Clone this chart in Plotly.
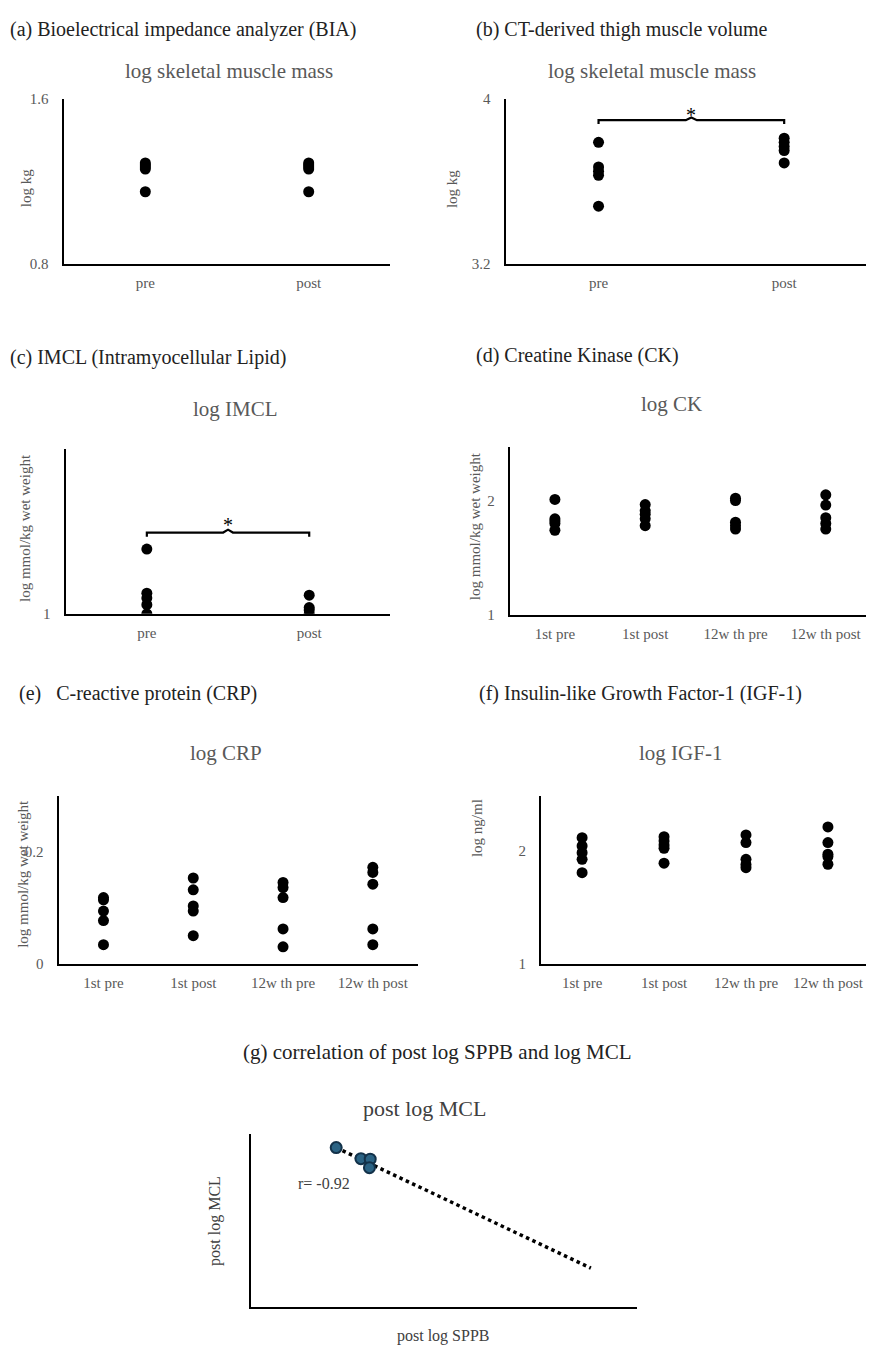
import plotly.graph_objects as go

W, H = 874, 1350
FONT = "Liberation Serif"
GRAY = "#595959"

# ---- data ----
prepost = ["pre", "post"]
visits = ["1st pre", "1st post", "12w th pre", "12w th post"]

bia_pre = [1.15, 1.26, 1.27, 1.28, 1.29]
bia_post = [1.15, 1.26, 1.27, 1.28, 1.29]

ct_pre = [3.79, 3.67, 3.65, 3.63, 3.48]
ct_post = [3.81, 3.79, 3.77, 3.75, 3.69]

imcl_pre = [1.157, 1.050, 1.038, 1.022, 1.0]
imcl_post = [1.045, 1.015, 1.009, 1.0]

ck_1st_pre = [2.01, 1.84, 1.82, 1.80, 1.74]
ck_1st_post = [1.965, 1.91, 1.88, 1.84, 1.78]
ck_12w_pre = [2.02, 2.00, 1.81, 1.78, 1.75]
ck_12w_post = [2.05, 1.96, 1.85, 1.80, 1.75]

crp_1st_pre = [0.118, 0.114, 0.094, 0.077, 0.034]
crp_1st_post = [0.153, 0.132, 0.103, 0.094, 0.050]
crp_12w_pre = [0.145, 0.136, 0.118, 0.062, 0.030]
crp_12w_post = [0.172, 0.163, 0.142, 0.062, 0.034]

igf_1st_pre = [2.118, 2.044, 1.985, 1.926, 1.807]
igf_1st_post = [2.127, 2.089, 2.053, 2.024, 1.891]
igf_12w_pre = [2.142, 2.074, 1.926, 1.88, 1.852]
igf_12w_post = [2.213, 2.074, 1.971, 1.95, 1.882]

# (g) normalised axes, no tick values shown in the original
sppb_post = [0.221, 0.285, 0.309, 0.307]
mcl_post = [0.919, 0.855, 0.852, 0.803]
trend_x = [0.221, 0.88]
trend_y = [0.919, 0.222]

# page offset/scale seen in the rendered screenshot
S, OX, OY = 0.9885, 8, 15


def X(x):
    return max((x - OX) / S, 0)


def Y(y):
    return (y - OY) / S


# ---- panel layout (target pixel boxes: left, right, top, bottom) ----
boxes = {
    1: (63, 386, 98, 263),
    2: (500, 867, 98, 263),
    3: (65, 386, 448, 613),
    4: (504, 861, 446, 614),
    5: (58, 413, 795, 963),
    6: (535, 859, 795, 963),
    7: (248, 630, 1133, 1306),
}

fig = go.Figure()


def add_group(n, values_list):
    for i, vals in enumerate(values_list):
        fig.add_trace(go.Scatter(
            x=[i] * len(vals), y=vals, mode="markers",
            marker=dict(color="black", size=11),
            xaxis=f"x{n}", yaxis=f"y{n}", showlegend=False,
            hoverinfo="y"))


def add_bracket(n, lo, hi, star_y):
    fig.add_trace(go.Scatter(
        x=[0, 0, 0.47, 0.5, 0.53, 1, 1],
        y=[lo, hi, hi, hi + (hi - lo) * 0.7, hi, hi, lo],
        mode="lines", line=dict(color="black", width=2.2),
        xaxis=f"x{n}", yaxis=f"y{n}", showlegend=False, hoverinfo="skip"))
    fig.add_annotation(x=0.5, y=star_y, xref=f"x{n}", yref=f"y{n}",
                       text="*", showarrow=False,
                       font=dict(family=FONT, size=20, color="black"))


add_group(1, [bia_pre, bia_post])
add_group(2, [ct_pre, ct_post])
add_bracket(2, 3.878, 3.897, 3.922)
add_group(3, [imcl_pre, imcl_post])
add_bracket(3, 1.187, 1.197, 1.216)
add_group(4, [ck_1st_pre, ck_1st_post, ck_12w_pre, ck_12w_post])
add_group(5, [crp_1st_pre, crp_1st_post, crp_12w_pre, crp_12w_post])
add_group(6, [igf_1st_pre, igf_1st_post, igf_12w_pre, igf_12w_post])

# (g) correlation
fig.add_trace(go.Scatter(
    x=trend_x, y=trend_y, mode="lines",
    line=dict(color="black", width=3.5, dash="dot"),
    xaxis="x7", yaxis="y7", showlegend=False, hoverinfo="skip"))
fig.add_trace(go.Scatter(
    x=sppb_post, y=mcl_post, mode="markers",
    marker=dict(color="#2b6384", size=11, line=dict(color="#13324a", width=2)),
    xaxis="x7", yaxis="y7", showlegend=False))

axis_common = dict(showline=True, linecolor="black", linewidth=2.2,
                   showgrid=False, zeroline=False, ticks="",
                   tickfont=dict(family=FONT, size=15, color=GRAY),
                   fixedrange=True)

yranges = {1: [0.8, 1.6], 2: [3.2, 4.0], 3: [1.0, 1.4], 4: [1.0, 2.47],
           5: [0.0, 0.3], 6: [1.0, 2.49], 7: [0, 1]}
yticks = {1: [0.8, 1.6], 2: [3.2, 4], 3: [1], 4: [1, 2], 5: [0, 0.2],
          6: [1, 2], 7: []}
ytext = {1: ["0.8", "1.6"], 2: ["3.2", "4"], 3: ["1"], 4: ["1", "2"],
         5: ["0", "0.2"], 6: ["1", "2"], 7: []}
xlabels = {1: prepost, 2: prepost, 3: prepost, 4: visits, 5: visits,
           6: visits, 7: []}

lay = {}
for n, (l, r, t, b) in boxes.items():
    labels = xlabels[n]
    xr = [0, 1] if n == 7 else [-0.5, len(labels) - 0.5]
    lay[f"xaxis{n}"] = dict(
        axis_common, domain=[X(l) / W, X(r) / W], range=xr,
        anchor=f"y{n}", tickvals=list(range(len(labels))), ticktext=labels,
        showticklabels=bool(labels), ticklabelstandoff=4)
    lay[f"yaxis{n}"] = dict(
        axis_common, domain=[1 - Y(b) / H, 1 - Y(t) / H], range=yranges[n],
        anchor=f"x{n}", tickvals=yticks[n], ticktext=ytext[n],
        ticklabelstandoff=10)
fig.update_layout(**lay)


def text(x, y, s, size, color, angle=0, xanchor="center", yanchor="middle"):
    yy = 1.0 if yanchor == "top" else 1 - Y(y) / H
    fig.add_annotation(x=X(x) / W, y=yy, xref="paper", yref="paper",
                       text=s, showarrow=False, textangle=angle,
                       xanchor=xanchor, yanchor=yanchor,
                       font=dict(family=FONT, size=size, color=color))


# panel labels
DARK = "#222222"
text(3, 15, "(a) Bioelectrical impedance analyzer (BIA)", 20, DARK,
     xanchor="left", yanchor="top")
text(469, 15, "(b) CT-derived thigh muscle volume", 20, DARK,
     xanchor="left", yanchor="top")
text(3, 357, "(c) IMCL (Intramyocellular Lipid)", 20, DARK, xanchor="left")
text(469, 355, "(d) Creatine Kinase (CK)", 20, DARK, xanchor="left")
text(17, 693, "(e)\u00a0\u00a0 C-reactive protein (CRP)", 20, DARK, xanchor="left")
text(472, 693, "(f) Insulin-like Growth Factor-1 (IGF-1)", 20, DARK, xanchor="left")
text(432, 1051, "(g) correlation of post log SPPB and log MCL", 21, DARK)

# chart titles
text(226, 70, "log skeletal muscle mass", 21, GRAY)
text(645, 70, "log skeletal muscle mass", 21, GRAY)
text(233, 408, "log IMCL", 21, GRAY)
text(664, 403, "log CK", 21, GRAY)
text(223, 752, "log CRP", 21, GRAY)
text(673, 752, "log IGF-1", 21, GRAY)
text(420, 1108, "post log MCL", 22, "#404040")

# axis titles
text(26, 187, "log kg", 15, GRAY, angle=-90)
text(447, 188, "log kg", 15, GRAY, angle=-90)
text(25, 527, "log mmol/kg wet weight", 15, GRAY, angle=-90)
text(469, 525, "log mmol/kg wet weight", 15, GRAY, angle=-90)
text(23, 873, "log mmol/kg wet weight", 15, GRAY, angle=-90)
text(471, 827, "log ng/ml", 15, GRAY, angle=-90)
text(212, 1220, "post log MCL", 16, "#404040", angle=-90)
text(438, 1335, "post log SPPB", 16, "#404040")
text(320, 1183, "r= -0.92", 16, "#404040")

fig.update_layout(
    width=W, height=H,
    margin=dict(l=0, r=0, t=0, b=0),
    paper_bgcolor="white", plot_bgcolor="white",
    font=dict(family=FONT),
)

fig.write_html("out.html")
